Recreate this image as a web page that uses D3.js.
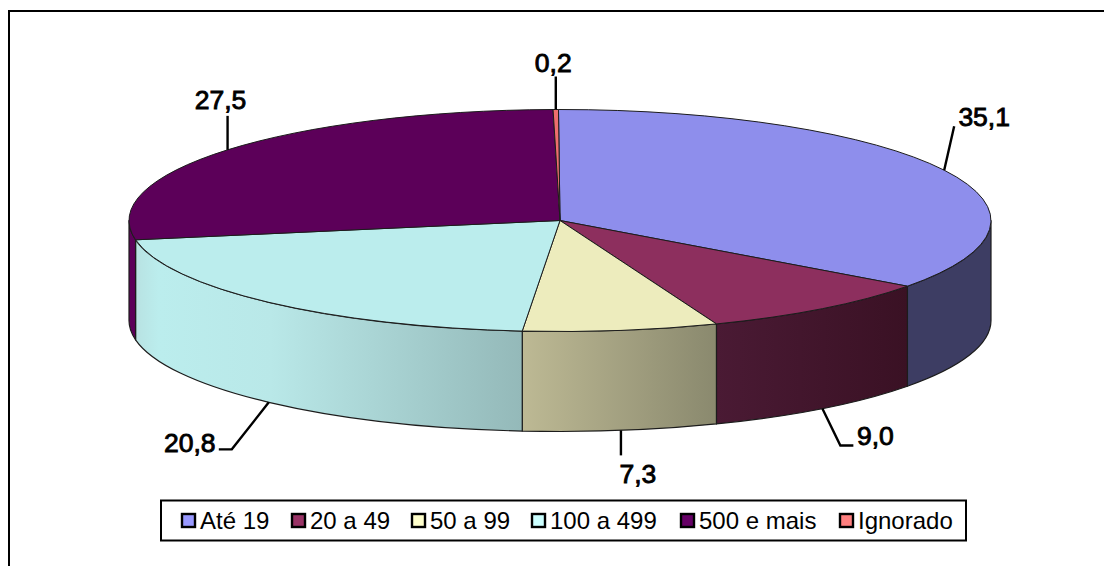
<!DOCTYPE html>
<html lang="pt">
<head>
<meta charset="utf-8">
<script src="https://cdn.jsdelivr.net/npm/d3@7/dist/d3.min.js"></script>
<style>
  html, body { margin: 0; padding: 0; background: #fff; }
  svg { display: block; }
  text { font-family: "Liberation Sans", Arial, sans-serif; fill: #000; }
</style>
</head>
<body>
<svg id="chart" width="1104" height="566"></svg>
<script>
// Categories and their shares, in drawing order clockwise from 12 o'clock
const categories = ["Até 19", "20 a 49", "50 a 99", "100 a 499", "500 e mais", "Ignorado"];
const shares = [35.1, 9.0, 7.3, 20.8, 27.5, 0.2];
const shareLabels = ["35,1", "9,0", "7,3", "20,8", "27,5", "0,2"];

// Colours per category
const topColours = ["#8e8eec", "#8d2f5e", "#edecbd", "#bbeded", "#5c0059", "#ee6e6e"];
const keyColours = ["#9999ff", "#993366", "#ffffcc", "#ccffff", "#660066", "#ff8080"];
const wallStops = [
  [[0, "#3d3d63"], [1, "#3d3d63"]],
  [[0, "#4a1a34"], [1, "#3a1124"]],
  [[0, "#bdb994"], [1, "#8a896e"]],
  [[0, "#b8e2e2"], [0.06, "#bbeded"], [0.35, "#b9e8e8"], [1, "#94b9b9"]],
  [[0, "#5c0059"], [1, "#5c0059"]],
  [[0, "#ee6e6e"], [1, "#ee6e6e"]]
];

// Leader elbows and label placement, relative to the rim point of each slice
const leaderBends = [
  [[10, -44]],
  [[18, 37], [31, 37]],
  [[0, 25]],
  [[-37, 47], [-50, 47]],
  [[0, -34]],
  [[0, -33]]
];
const labelOffsets = [[40, -44], [53, 36], [17, 53], [-79, 50], [-7, -41], [-2.5, -38]];

// Disc geometry; the first slice begins just short of 12 o'clock
const cx = 560, cy = 220.5, rx = 431, ry = 111, depth = 100;
const startTurn = -0.2 * Math.PI / 180;
const svg = d3.select("#chart");

const x = d3.scaleLinear().domain([-1, 1]).range([cx - rx, cx + rx]);
const y = d3.scaleLinear().domain([-1, 1]).range([cy - ry, cy + ry]);
const rimX = a => x(Math.sin(a));
const rimY = a => y(-Math.cos(a));

const slices = d3.pie()
  .sort(null)
  .startAngle(startTurn)
  .endAngle(startTurn + 2 * Math.PI)
  .value(d => d)(shares);

// Frame: top and left rules running off the page
svg.append("path")
  .attr("d", "M9,566V11H1104")
  .attr("fill", "none")
  .attr("stroke", "#000")
  .attr("stroke-width", 2);

// Horizontal shading of each outer wall
const defs = svg.append("defs");
slices.forEach((s, i) => {
  const a0 = Math.max(s.startAngle, Math.PI / 2);
  const a1 = Math.min(s.endAngle, 3 * Math.PI / 2);
  if (a0 >= a1) return;
  const xa = rimX(a0), xb = rimX(a1);
  const grad = defs.append("linearGradient")
    .attr("id", "wall" + i)
    .attr("gradientUnits", "userSpaceOnUse")
    .attr("x1", Math.min(xa, xb)).attr("x2", Math.max(xa, xb))
    .attr("y1", 0).attr("y2", 0);
  // Stops are listed left to right along the screen
  wallStops[i].forEach(st => grad.append("stop").attr("offset", st[0]).attr("stop-color", st[1]));
});

// Outer walls: only the front half of the rim is visible
const walls = svg.append("g");
slices.forEach((s, i) => {
  const a0 = Math.max(s.startAngle, Math.PI / 2);
  const a1 = Math.min(s.endAngle, 3 * Math.PI / 2);
  if (a0 >= a1) return;
  const d = `M${rimX(a0)},${rimY(a0)}` +
    `A${rx},${ry} 0 0 1 ${rimX(a1)},${rimY(a1)}` +
    `V${rimY(a1) + depth}` +
    `A${rx},${ry} 0 0 0 ${rimX(a0)},${rimY(a0) + depth}Z`;
  walls.append("path")
    .attr("d", d)
    .attr("fill", `url(#wall${i})`)
    .attr("stroke", "#1c1c1c")
    .attr("stroke-width", 1.2)
    .attr("stroke-linejoin", "round");
});

// Top face: a circular pie squashed into an ellipse
const arc = d3.arc().innerRadius(0).outerRadius(rx);
svg.append("g")
  .attr("transform", `translate(${cx},${cy}) scale(1,${ry / rx})`)
  .selectAll("path")
  .data(slices)
  .join("path")
  .attr("d", arc)
  .attr("fill", (d, i) => topColours[i])
  .attr("stroke", "#1c1c1c")
  .attr("stroke-width", 1)
  .style("vector-effect", "non-scaling-stroke");

// Leaders and value labels
const labels = svg.append("g");
slices.forEach((s, i) => {
  const mid = (s.startAngle + s.endAngle) / 2;
  const front = Math.cos(mid) < 0;
  const ax = rimX(mid);
  const ay = rimY(mid) + (front ? depth : 0);
  const pts = [[ax, ay]].concat(leaderBends[i].map(b => [ax + b[0], ay + b[1]]));
  labels.append("path")
    .attr("d", d3.line()(pts))
    .attr("fill", "none")
    .attr("stroke", "#000")
    .attr("stroke-width", 2.4);
  labels.append("text")
    .attr("x", ax + labelOffsets[i][0])
    .attr("y", ay + labelOffsets[i][1])
    .attr("text-anchor", "middle")
    .attr("font-size", 26.5)
    .attr("stroke", "#000")
    .attr("stroke-width", 0.9)
    .text(shareLabels[i]);
});

// Legend strip
const keyX = d3.scaleOrdinal().domain(categories).range([182, 292, 412, 532, 681, 840]);
const legend = svg.append("g");
legend.append("rect")
  .attr("x", 161).attr("y", 500.5)
  .attr("width", 805).attr("height", 40)
  .attr("fill", "#fff")
  .attr("stroke", "#000")
  .attr("stroke-width", 2);
categories.forEach((c, i) => {
  legend.append("rect")
    .attr("x", keyX(c)).attr("y", 514)
    .attr("width", 13).attr("height", 13)
    .attr("fill", keyColours[i])
    .attr("stroke", "#000")
    .attr("stroke-width", 2.4);
  legend.append("text")
    .attr("x", keyX(c) + 18).attr("y", 529)
    .attr("font-size", 24)
    .text(c);
});
</script>
</body>
</html>
